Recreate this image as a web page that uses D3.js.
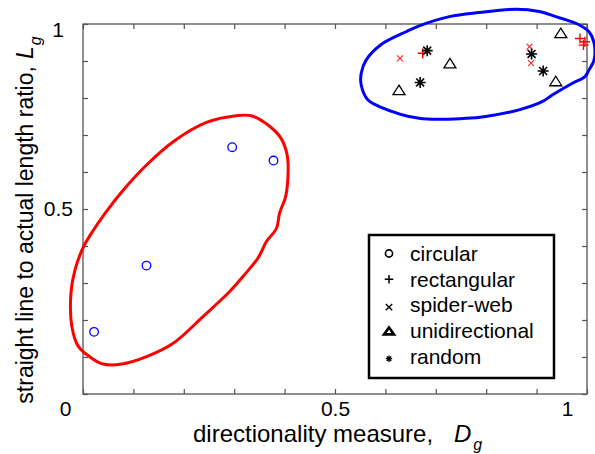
<!DOCTYPE html>
<html>
<head>
<meta charset="utf-8">
<script src="https://cdn.jsdelivr.net/npm/d3@7"></script>
<style>
  body { margin: 0; background: #fff; }
  svg { display: block; font-family: "Liberation Sans", Arial, sans-serif; }
</style>
</head>
<body>
<div id="vis"></div>
<script>
// values, [D_g, L_g]
var circular = [[0.022, 0.168], [0.126, 0.347], [0.296, 0.667], [0.378, 0.631]];
var rectangular = [[0.674, 0.921], [0.986, 0.961], [0.996, 0.952], [0.993, 0.943]];
var spiderWeb = [[0.629, 0.907], [0.886, 0.939], [0.889, 0.894]];
var unidirectional = [[0.627, 0.822], [0.728, 0.894], [0.948, 0.976], [0.938, 0.846]];
var random = [[0.683, 0.928], [0.669, 0.842], [0.890, 0.919], [0.913, 0.873]];

// hand drawn group outlines
var redOutline = [
  [0.304, 0.752], [0.334, 0.752], [0.367, 0.727], [0.393, 0.691], [0.405, 0.646],
  [0.407, 0.601], [0.402, 0.533], [0.390, 0.489], [0.384, 0.448], [0.364, 0.412],
  [0.347, 0.367], [0.317, 0.317], [0.291, 0.277], [0.238, 0.209], [0.179, 0.137],
  [0.126, 0.101], [0.077, 0.081], [0.040, 0.081], [0.017, 0.097], [-0.009, 0.128],
  [-0.022, 0.182], [-0.024, 0.272], [-0.016, 0.335], [0.001, 0.398], [0.017, 0.435],
  [0.044, 0.489], [0.083, 0.556], [0.126, 0.619], [0.179, 0.682], [0.245, 0.734]
];
var blueOutline = [
  [0.859, 1.040], [0.905, 1.034], [0.938, 1.020], [0.981, 1.000], [1.004, 0.979],
  [1.014, 0.949], [1.014, 0.903], [1.004, 0.876], [0.996, 0.858], [0.971, 0.840],
  [0.931, 0.808], [0.911, 0.790], [0.865, 0.768], [0.799, 0.750], [0.760, 0.745],
  [0.667, 0.745], [0.588, 0.777], [0.565, 0.795], [0.552, 0.835], [0.552, 0.867],
  [0.562, 0.903], [0.591, 0.944], [0.641, 0.979], [0.667, 0.995], [0.727, 1.020],
  [0.786, 1.031]
];

var tickValues = [0, 0.1, 0.2, 0.3, 0.4, 0.5, 0.6, 0.7, 0.8, 0.9, 1];
var tickLabels = { 0: '0', 0.5: '0.5', 1: '1' };
var legendNames = ['circular', 'rectangular', 'spider-web', 'unidirectional', 'random'];

var W = 595, H = 454;
var margin = { left: 83, top: 24, right: 8, bottom: 60 };
var pw = 504, ph = 370;

var x = d3.scaleLinear().domain([0, 1]).range([0, pw]);
var y = d3.scaleLinear().domain([0, 1]).range([ph, 0]);

// marker paths
function plusPath(s) { return 'M' + (-s) + ',0H' + s + 'M0,' + (-s) + 'V' + s; }
function timesPath(s) { return 'M' + (-s) + ',' + (-s) + 'L' + s + ',' + s + 'M' + (-s) + ',' + s + 'L' + s + ',' + (-s); }
function starPath(s) { var k = s * 0.72; return plusPath(s) + timesPath(k); }
function triPath(w, h) { return 'M0,' + (-h / 2) + 'L' + (w / 2) + ',' + (h / 2) + 'L' + (-w / 2) + ',' + (h / 2) + 'Z'; }

var svg = d3.select('#vis').append('svg').attr('width', W).attr('height', H);
svg.append('rect').attr('width', W).attr('height', H).attr('fill', '#fff');

var g = svg.append('g').attr('transform', 'translate(' + margin.left + ',' + margin.top + ')');

// axes, ticks pointing in
var axisColor = '#555';
function styleAxis(sel) {
  sel.select('.domain').remove();
  sel.selectAll('line').attr('stroke', axisColor).attr('stroke-width', 1.2);
  sel.selectAll('text').attr('fill', '#000').style('font-size', '21px');
}

var xAxis = g.append('g').attr('transform', 'translate(0,' + ph + ')')
  .call(d3.axisBottom(x).tickValues(tickValues).tickSize(-5).tickPadding(7)
    .tickFormat(function (d) { return tickLabels[d] || ''; }))
  .call(styleAxis);
xAxis.selectAll('.tick text').attr('dx', function (d) { return d === 0 ? -18 : d === 1 ? -20 : 0; });

var yAxis = g.append('g')
  .call(d3.axisLeft(y).tickValues(tickValues).tickSize(-5).tickPadding(10)
    .tickFormat(function (d) { return d === 0 ? '' : (tickLabels[d] || ''); }))
  .call(styleAxis);
yAxis.selectAll('.tick text')
  .attr('dx', function (d) { return d === 1 ? -9 : 0; })
  .attr('dy', function (d) { return d === 1 ? '0.6em' : '0.32em'; });

g.append('g')
  .call(d3.axisTop(x).tickValues(tickValues).tickSize(-5).tickFormat(''))
  .call(styleAxis);
g.append('g').attr('transform', 'translate(' + pw + ',0)')
  .call(d3.axisRight(y).tickValues(tickValues).tickSize(-5).tickFormat(''))
  .call(styleAxis);

g.append('rect')
  .attr('width', pw).attr('height', ph)
  .attr('fill', 'none').attr('stroke', axisColor).attr('stroke-width', 1.3);

// group outlines
var outline = d3.line()
  .x(function (d) { return x(d[0]); })
  .y(function (d) { return y(d[1]); })
  .curve(d3.curveCatmullRomClosed.alpha(0.5));

g.append('path').datum(redOutline).attr('d', outline)
  .attr('fill', 'none').attr('stroke', '#ff0000').attr('stroke-width', 3).attr('stroke-linejoin', 'round');
g.append('path').datum(blueOutline).attr('d', outline)
  .attr('fill', 'none').attr('stroke', '#0000ff').attr('stroke-width', 3).attr('stroke-linejoin', 'round');

// points
function pos(d) { return 'translate(' + x(d[0]) + ',' + y(d[1]) + ')'; }

g.selectAll('.circ').data(circular).enter().append('circle')
  .attr('class', 'circ')
  .attr('cx', function (d) { return x(d[0]); })
  .attr('cy', function (d) { return y(d[1]); })
  .attr('r', 4.3)
  .attr('fill', 'none').attr('stroke', '#0000ff').attr('stroke-width', 1.3);

g.selectAll('.tri').data(unidirectional).enter().append('path')
  .attr('class', 'tri')
  .attr('transform', pos).attr('d', triPath(12, 9.5))
  .attr('fill', 'none').attr('stroke', '#000').attr('stroke-width', 1.3);

g.selectAll('.spider').data(spiderWeb).enter().append('path')
  .attr('class', 'spider')
  .attr('transform', pos).attr('d', timesPath(3))
  .attr('fill', 'none').attr('stroke', '#ff2020').attr('stroke-width', 1.1);

g.selectAll('.rect').data(rectangular).enter().append('path')
  .attr('class', 'rect')
  .attr('transform', pos).attr('d', plusPath(5))
  .attr('fill', 'none').attr('stroke', '#ff0000').attr('stroke-width', 1.4);

g.selectAll('.rand').data(random).enter().append('path')
  .attr('class', 'rand')
  .attr('transform', pos).attr('d', starPath(5.5))
  .attr('fill', 'none').attr('stroke', '#000').attr('stroke-width', 1.6);
g.selectAll('.randdot').data(random).enter().append('circle')
  .attr('class', 'randdot')
  .attr('cx', function (d) { return x(d[0]); })
  .attr('cy', function (d) { return y(d[1]); })
  .attr('r', 2).attr('fill', '#000');

// legend
var legend = svg.append('g').attr('transform', 'translate(369,235)');
legend.append('rect')
  .attr('width', 185).attr('height', 143)
  .attr('fill', '#fff').attr('stroke', '#000').attr('stroke-width', 2.5);

var legendMarks = [
  function (s) { s.append('circle').attr('r', 3.6).attr('fill', 'none').attr('stroke', '#000').attr('stroke-width', 1.6); },
  function (s) { s.append('path').attr('d', plusPath(4.3)).attr('stroke', '#000').attr('stroke-width', 1.5); },
  function (s) { s.append('path').attr('d', timesPath(3.2)).attr('transform', 'translate(0,2)').attr('stroke', '#000').attr('stroke-width', 1.4); },
  function (s) { s.append('path').attr('d', triPath(10, 7)).attr('fill', 'none').attr('stroke', '#000').attr('stroke-width', 2.6).attr('stroke-linejoin', 'miter'); },
  function (s) { s.append('path').attr('d', starPath(3.2)).attr('transform', 'translate(0,2)').attr('stroke', '#000').attr('stroke-width', 1.3); }
];

var rows = legend.selectAll('.row').data(legendNames).enter().append('g')
  .attr('class', 'row')
  .attr('transform', function (d, i) { return 'translate(0,' + (18.5 + i * 25.8) + ')'; });
rows.each(function (d, i) {
  var m = d3.select(this).append('g').attr('transform', 'translate(20,0)');
  legendMarks[i](m);
});
rows.append('text')
  .attr('x', 41).attr('dy', '0.35em')
  .style('font-size', '21px').attr('fill', '#000')
  .text(function (d) { return d; });

// axis titles
var xt = svg.append('text')
  .attr('x', 193).attr('y', 442)
  .style('font-size', '24px').attr('fill', '#000');
xt.append('tspan').text('directionality measure,');
xt.append('tspan').attr('x', 454).style('font-style', 'italic').text('D');
xt.append('tspan').style('font-style', 'italic').style('font-size', '16px').attr('dx', 2).attr('dy', 8).text('g');

var yt = svg.append('text')
  .attr('transform', 'translate(33,220) rotate(-90)')
  .attr('text-anchor', 'middle')
  .style('font-size', '23px').attr('fill', '#000');
yt.append('tspan').text('straight line to actual length ratio,');
yt.append('tspan').attr('dx', 7).style('font-style', 'italic').text('L');
yt.append('tspan').style('font-style', 'italic').style('font-size', '16px').attr('dx', 1).attr('dy', 8).text('g');
</script>
</body>
</html>
